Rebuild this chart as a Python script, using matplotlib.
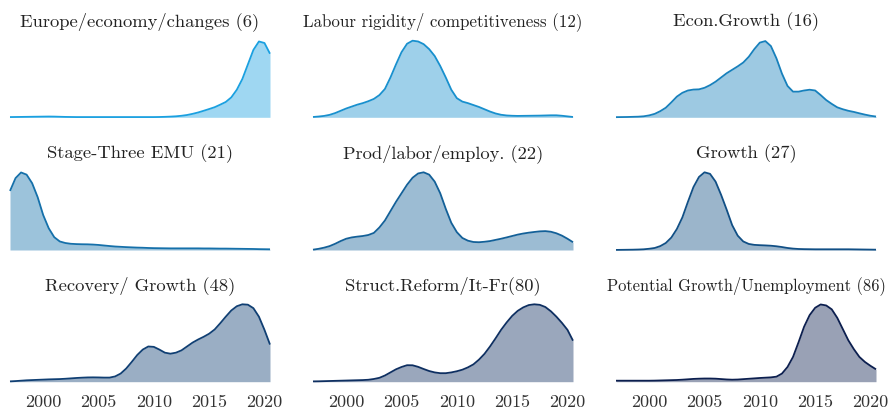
import numpy as np
import matplotlib
matplotlib.use("Agg")
import matplotlib.pyplot as plt
from matplotlib.colors import to_rgb

plt.rcParams['font.family'] = ['cmr10', 'DejaVu Serif']
plt.rcParams['axes.formatter.use_mathtext'] = True

# x grid (years, half-year steps)
years = np.arange(1997.0, 2020.51, 0.5)

titles = [
    "Europe/economy/changes (6)",
    "Labour rigidity/ competitiveness (12)",
    "Econ.Growth (16)",
    "Stage-Three EMU (21)",
    "Prod/labor/employ. (22)",
    "Growth (27)",
    "Recovery/ Growth (48)",
    "Struct.Reform/It-Fr(80)",
    "Potential Growth/Unemployment (86)",
]

europe_economy = [0.3, 0.4, 0.5, 0.6, 0.7, 0.8, 0.9, 1.0, 0.9, 0.7, 0.5, 0.4,
                  0.3, 0.3, 0.3, 0.3, 0.3, 0.3, 0.3, 0.3, 0.3, 0.3, 0.3, 0.3,
                  0.3, 0.3, 0.3, 0.4,
                  0.6, 0.9, 1.3, 2.0, 3.0, 4.5, 6.3, 8.5, 10.8, 13.2, 16.5, 20,
                  26, 36, 50, 69, 88, 99, 97, 83]
labour_rigidity = [0.4, 1.0, 1.8, 3.2, 5.5, 8.5, 11.5, 14, 16.5, 18.5, 21, 24,
                   29, 37, 52, 69, 85, 96, 100, 99, 95.5, 89, 80, 67,
                   52, 36, 25, 20.5, 18.5, 16, 13.5, 10.5, 7.5, 5, 3.3, 2.4,
                   2.0, 1.8, 1.9, 2.0, 2.1, 2.2, 2.4, 2.6, 2.6, 2.0, 1.2, 0.4]
econ_growth = [0.2, 0.3, 0.4, 0.6, 0.8, 1.3, 2.5, 4.5, 8, 12.5, 19.5, 27,
               32, 35, 36.2, 36.5, 38.5, 42, 46.5, 52, 57.5, 62, 66.5, 71.5,
               79, 89, 97.5, 99.5, 93, 77, 57, 41, 33.5, 33.5, 35, 36,
               35, 29, 22.5, 17.5, 13, 10.5, 8.5, 7, 5.2, 3.5, 2, 1]
stage_three_emu = [76, 92.5, 99.8, 97, 86, 68, 45, 28, 16.5, 11, 9, 8,
                   7.6, 7.4, 7.3, 7, 6.5, 5.8, 5.1, 4.5, 4.1, 3.7, 3.4, 3.1,
                   2.9, 2.6, 2.4, 2.3, 2.2, 2.1, 2.1, 2.1, 2.1, 2.1, 2.1, 2.0,
                   2.0, 1.9, 1.8, 1.8, 1.7, 1.6, 1.5, 1.4, 1.3, 1.1, 1.0, 0.9]
prod_labor = [0.4, 1.5, 3, 5, 8, 11.5, 14.5, 16.2, 17.2, 18, 19.3, 22,
              29, 38, 50, 62, 73, 84, 93, 98.5, 100, 97, 88, 73,
              53, 35, 23, 15.5, 12, 10.3, 10, 10.6, 11.5, 13, 14.5, 16.2,
              18, 19.8, 21.2, 22.3, 23.2, 24, 24.3, 23.5, 21.5, 18.5, 14.5, 10]
growth = [0.1, 0.2, 0.3, 0.4, 0.6, 0.9, 1.6, 2.6, 5, 9, 16, 27,
          42, 62, 81, 94, 100, 98, 88, 71, 52, 32, 18.5, 11,
          7.8, 6.6, 6.2, 5.9, 5.5, 4.8, 3.8, 2.6, 1.8, 1.3, 1.1, 1.0,
          0.9, 0.9, 0.9, 0.9, 0.9, 0.9, 0.9, 0.8, 0.7, 0.6, 0.5, 0.4]
recovery_growth = [0.4, 0.8, 1.3, 1.8, 2.1, 2.4, 2.7, 3.0, 3.2, 3.4, 3.8, 4.3,
                   4.8, 5.2, 5.5, 5.6, 5.5, 5.3, 5.3, 6.8, 10.5, 17, 25.5, 34.5,
                   41.5, 45.5, 45, 41.5, 37.5, 36.2, 37.5, 40.5, 45.5, 50.5, 54.5, 58,
                   62, 67.5, 75.5, 84, 92, 97.5, 100, 99.5, 95, 84, 67, 48]
struct_reform = [0.4, 0.5, 0.7, 0.9, 1.1, 1.3, 1.5, 1.7, 1.9, 2.1, 2.5, 3.5,
                 5, 8, 12, 16, 19, 21.3, 21.2, 19.2, 16.4, 13.8, 12, 11,
                 11, 12, 13.5, 15.5, 18.5, 22.4, 28.5, 36, 45.5, 56, 67, 76.5,
                 85, 91.5, 96, 99, 100, 99.3, 96.5, 91, 84, 76, 67, 53]
potential_growth = [1.3, 1.3, 1.3, 1.3, 1.3, 1.3, 1.3, 1.4, 1.6, 1.8, 2.0, 2.2,
                    2.6, 3.1, 3.6, 3.9, 4.1, 4.1, 3.9, 3.4, 2.9, 2.6, 2.8, 3.3,
                    3.8, 4.3, 4.8, 5.2, 5.6, 6.5, 10.5, 19, 32, 51, 71, 86,
                    95.5, 99.8, 98.5, 93.5, 82.5, 68, 53.5, 42, 32, 25.5, 20.5, 16]

series = [europe_economy, labour_rigidity, econ_growth,
          stage_three_emu, prod_labor, growth,
          recovery_growth, struct_reform, potential_growth]

tick_years = [2000, 2005, 2010, 2015, 2020]

# colours: gradient from light sky-blue to dark navy
c0 = np.array(to_rgb("#1aa0e0"))
c1 = np.array(to_rgb("#0c1f4f"))

W, H = 891, 413
fig = plt.figure(figsize=(W / 100, H / 100), dpi=100)
renderer = fig.canvas.get_renderer()

col_left = [10, 313, 616]
ax_w = 260
row_top = [40.7, 172.3, 304.3]
row_bot = [117.3, 250.0, 381.7]
title_size = 13.35
max_title_px = 278

for i, (title, vals) in enumerate(zip(titles, series)):
    r, c = divmod(i, 3)
    left = col_left[c] / W
    bottom = 1 - row_bot[r] / H
    height = (row_bot[r] - row_top[r]) / H
    ax = fig.add_axes([left, bottom, ax_w / W, height])
    t = i / 8
    col = (1 - t) * c0 + t * c1
    v = np.array(vals, dtype=float)
    ax.fill_between(years, 0, v, color=col, alpha=0.42, linewidth=0, clip_on=False)
    ax.plot(years, v, color=col, lw=1.3, clip_on=False, solid_capstyle='butt')
    ax.set_xlim(years[0], years[-1])
    ax.set_ylim(0, 100)
    for s in ax.spines.values():
        s.set_visible(False)
    ax.set_yticks([])
    ax.set_facecolor('none')
    if r == 2:
        ax.set_xticks(tick_years)
        ax.set_xticklabels([str(y) for y in tick_years])
        ax.tick_params(axis='x', length=0, pad=9.5, labelsize=13, colors='#333333')
    else:
        ax.set_xticks([])
    ttl = ax.set_title(title, fontsize=title_size, pad=10.3, color='#222222')
    w = ttl.get_window_extent(renderer).width
    if w > max_title_px:
        ttl.set_fontsize(title_size * max_title_px / w)

fig.savefig("out.png", dpi=100)
